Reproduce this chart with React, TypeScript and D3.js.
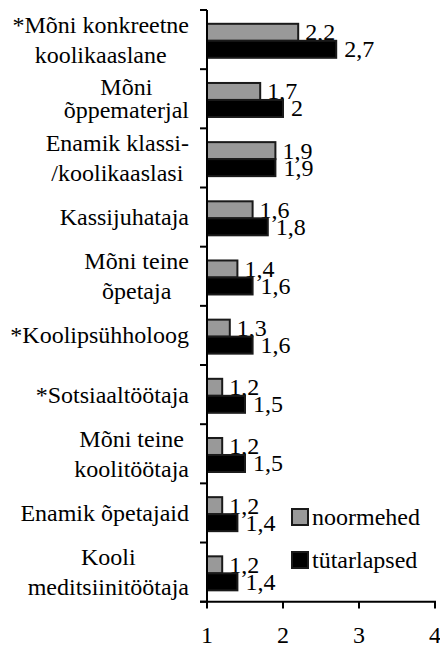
import React, { useLayoutEffect, useRef, useState } from "react";
import * as d3 from "d3";

const categories: string[] = [
  "*Mõni konkreetne\nkoolikaaslane",
  "Mõni\nõppematerjal",
  "Enamik klassi-\n/koolikaaslasi",
  "Kassijuhataja",
  "Mõni teine\nõpetaja",
  "*Koolipsühholoog",
  "*Sotsiaaltöötaja",
  "Mõni teine\nkoolitöötaja",
  "Enamik õpetajaid",
  "Kooli\nmeditsiinitöötaja",
];
const noormehed: number[] = [2.2, 1.7, 1.9, 1.6, 1.4, 1.3, 1.2, 1.2, 1.2, 1.2];
const tutarlapsed: number[] = [2.7, 2.0, 1.9, 1.8, 1.6, 1.6, 1.5, 1.5, 1.4, 1.4];
const seriesNames: string[] = ["noormehed", "tütarlapsed"];
const xTicks: number[] = [1, 2, 3, 4];

const W = 440;
const H = 646;
const FONT = "Liberation Serif";
const GRAY = "#999999";
const STROKE = "#1a1a1a";

const x = d3.scaleLinear().domain([1, 4]).range([207, 435]);
const y = d3.scaleBand<string>().domain(categories).range([10, 601.7]);
const bw = y.bandwidth();
const barH = 17;
const off = 13.8;
const fmt = (v: number) => String(v).replace(".", ",");

export default function App() {
  const labRefs = useRef<(SVGGElement | null)[]>([]);
  const [blockW, setBlockW] = useState<number[]>(categories.map(() => 0));

  useLayoutEffect(() => {
    const ws = labRefs.current.map((g) => {
      if (!g) return 0;
      const ts = Array.from(g.querySelectorAll("text")) as SVGTextElement[];
      return Math.max(...ts.map((t) => t.getComputedTextLength()));
    });
    setBlockW(ws);
  }, []);

  const textStyle = { fontFamily: FONT, fontSize: "24px" };
  const bounds = [...categories.map((c) => y(c) as number), 601.7];

  return (
    <svg width={W} height={H} style={{ position: "absolute", left: 0, top: 0, display: "block", background: "#fff" }}>
      <g style={textStyle} fill="#000">
        {categories.map((c, i) => {
          const lines = c.split("\n");
          const center = (y(c) as number) + bw / 2;
          const gap = i === 1 ? 23 : 30;
          const cx = 189 - blockW[i] / 2;
          return (
            <g key={c} ref={(el) => { labRefs.current[i] = el; }}>
              {lines.map((ln, j) => (
                <text key={j} x={cx} y={center + 8 + (j - (lines.length - 1) / 2) * gap} textAnchor="middle" style={textStyle}>
                  {ln}
                </text>
              ))}
            </g>
          );
        })}
      </g>

      {noormehed.map((d, i) => (
        <rect key={"g" + i} x={x(1)} y={(y(categories[i]) as number) + off} width={x(d) - x(1)} height={barH}
          fill={GRAY} stroke={STROKE} strokeWidth={2} />
      ))}
      {noormehed.map((d, i) => (
        <text key={"gl" + i} x={x(d) + 7} y={(y(categories[i]) as number) + off + barH / 2 + 8} style={textStyle}>
          {fmt(d)}
        </text>
      ))}
      {tutarlapsed.map((d, i) => (
        <rect key={"b" + i} x={x(1)} y={(y(categories[i]) as number) + off + barH} width={x(d) - x(1)} height={barH}
          fill="#000" stroke={STROKE} strokeWidth={2} />
      ))}
      {tutarlapsed.map((d, i) => (
        <text key={"bl" + i} x={x(d) + 8} y={(y(categories[i]) as number) + off + barH * 1.5 + 8} style={textStyle}>
          {fmt(d)}
        </text>
      ))}

      <g stroke="#000" strokeWidth={2}>
        <line x1={x(1)} x2={x(1)} y1={10} y2={601.7} />
        {bounds.map((b, i) => (
          <line key={"yt" + i} x1={200} x2={x(1)} y1={b} y2={b} />
        ))}
        <line x1={200} x2={x(4) + 1} y1={601.7} y2={601.7} />
        {xTicks.map((t) => (
          <line key={"xt" + t} x1={x(t)} x2={x(t)} y1={601.7} y2={608.5} />
        ))}
      </g>
      {xTicks.map((t) => (
        <text key={"xl" + t} x={x(t)} y={643} textAnchor="middle" style={textStyle}>
          {String(t)}
        </text>
      ))}

      {seriesNames.map((s, i) => {
        const ly = 509 + i * 43;
        return (
          <g key={s}>
            <rect x={292} y={ly} width={16} height={16} fill={i === 0 ? GRAY : "#000"} stroke={STROKE} strokeWidth={2} />
            <text x={312} y={ly + 16} style={textStyle}>{s}</text>
          </g>
        );
      })}
    </svg>
  );
}
